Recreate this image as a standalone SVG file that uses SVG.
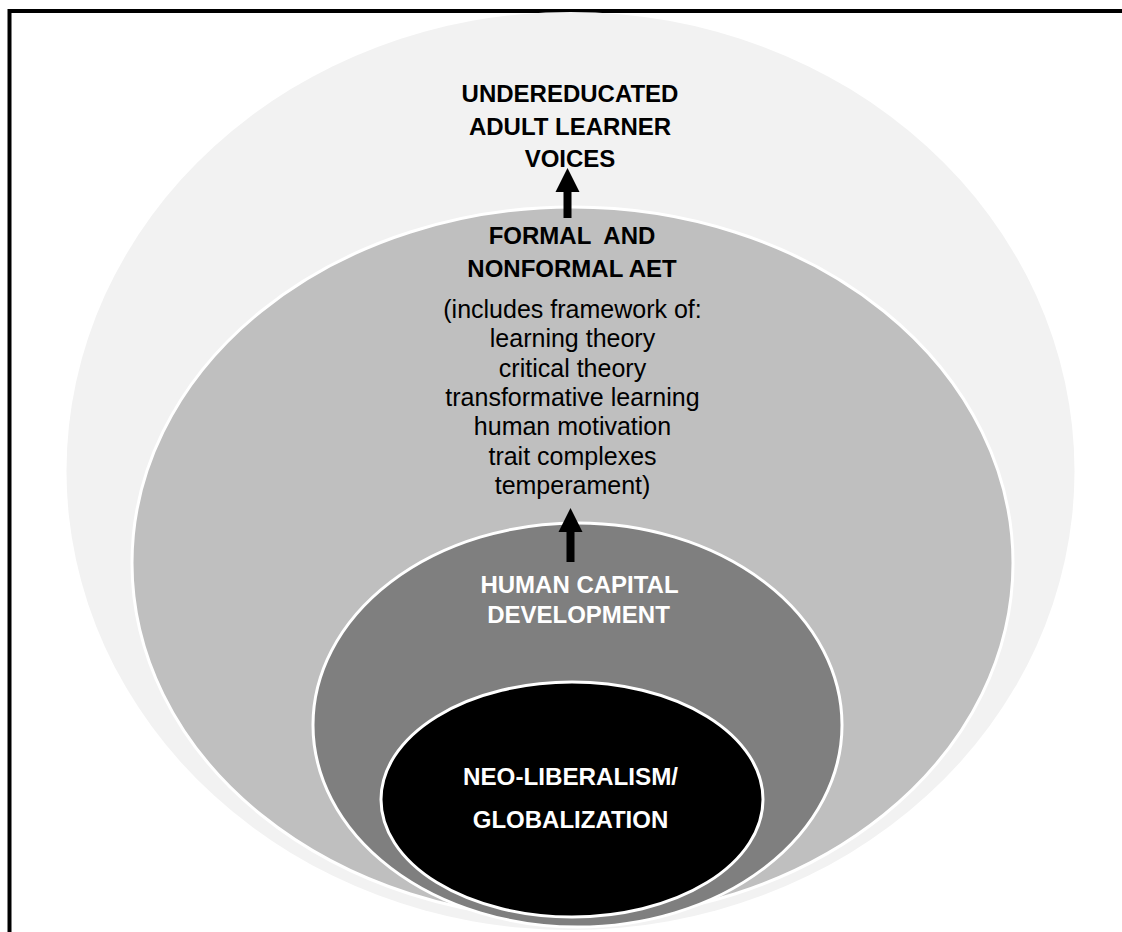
<svg xmlns="http://www.w3.org/2000/svg" width="1122" height="932" viewBox="0 0 1122 932">
<style>
.cap{font-family:"Liberation Sans",Arial,sans-serif;font-weight:bold;font-size:24px;text-anchor:middle}
.sm{font-family:"Liberation Sans",Arial,sans-serif;font-size:25px;text-anchor:middle;fill:#000}
.ring{stroke:#fff;stroke-width:3}
</style>
<rect width="1122" height="932" fill="#fff"/>
<path d="M9.5 932 V11 H1122" fill="none" stroke="#000" stroke-width="4"/>
<g id="voices">
<ellipse cx="570.5" cy="471" rx="504" ry="459" fill="#f2f2f2"/>
<text class="cap" fill="#000" x="570" y="102">UNDEREDUCATED</text>
<text class="cap" fill="#000" x="570" y="135">ADULT LEARNER</text>
<text class="cap" fill="#000" x="570" y="167">VOICES</text>
</g>
<g id="aet">
<ellipse class="ring" cx="572.5" cy="563" rx="440.5" ry="356" fill="#bfbfbf"/>
<text class="cap" fill="#000" x="572" y="244" xml:space="preserve">FORMAL  AND</text>
<text class="cap" fill="#000" x="572" y="277">NONFORMAL AET</text>
<text class="sm" x="572.5" y="318">(includes framework of:</text>
<text class="sm" x="572.5" y="347">learning theory</text>
<text class="sm" x="572.5" y="377">critical theory</text>
<text class="sm" x="572.5" y="406">transformative learning</text>
<text class="sm" x="572.5" y="435">human motivation</text>
<text class="sm" x="572.5" y="465">trait complexes</text>
<text class="sm" x="572.5" y="494">temperament)</text>
</g>
<g id="hcd">
<ellipse class="ring" cx="577.5" cy="725" rx="264.5" ry="202" fill="#7f7f7f"/>
<text class="cap" fill="#fff" x="579.5" y="593">HUMAN CAPITAL</text>
<text class="cap" fill="#fff" x="578.5" y="623">DEVELOPMENT</text>
</g>
<g id="neo">
<ellipse class="ring" cx="572" cy="799.5" rx="191" ry="117.5" fill="#000"/>
<text class="cap" fill="#fff" x="570.5" y="785" textLength="215" lengthAdjust="spacingAndGlyphs">NEO-LIBERALISM/</text>
<text class="cap" fill="#fff" x="570.5" y="828">GLOBALIZATION</text>
</g>
<g id="connectors" fill="#000">
<polygon points="567.5,168 579.5,192 571.5,192 571.5,218 563.5,218 563.5,192 555.5,192"/>
<polygon points="570.5,508 582.5,532 574.5,532 574.5,562 566.5,562 566.5,532 558.5,532"/>
</g>
</svg>
